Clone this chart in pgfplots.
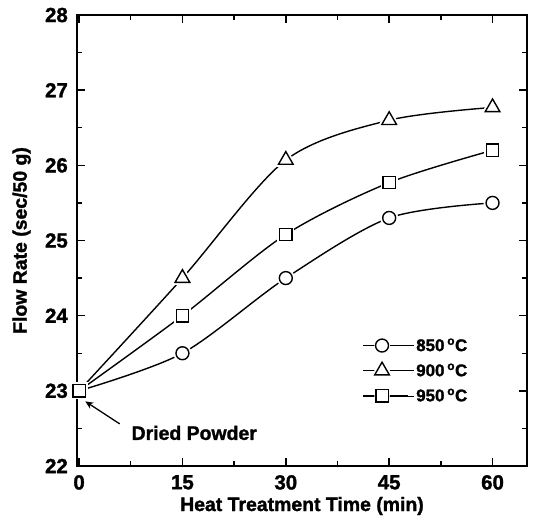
\documentclass[border=0pt]{standalone}
\usepackage{pgfplots}
\pgfplotsset{compat=1.18}
\usepackage{pgfplotstable}
\usepackage{fontspec}
\setmainfont[BoldFeatures={FakeBold=1.5}]{Liberation Sans}
\usetikzlibrary{arrows.meta}

% flow rate vs heat treatment time
\pgfplotstableread{
t rate
0  23.0
15 23.5
30 24.5
45 25.3
60 25.5
}\tA
\pgfplotstableread{
t rate
0  23.0
15 24.5
30 26.07
45 26.6
60 26.77
}\tB
\pgfplotstableread{
t rate
0  23.0
15 24.0
30 25.08
45 25.77
60 26.2
}\tC

\pgfplotsset{
  curve/.style={black, line width=1.4pt, smooth, tension=0.5,
    mark options={draw=white, fill=white, line width=5pt}},
  pts/.style={black, only marks,
    mark options={line width=1.4pt}},
  halo legend/.style={legend image code/.code={
    \path (0bp,0bp) -- (51bp,0bp);
    \draw[black, line width=1.4pt] (0bp,0bp) -- (45bp,0bp);
    \draw[white, fill=white, line width=3.5pt] (19bp,0bp) circle (6bp);
    \draw[##1] plot coordinates {(19bp,0bp)};
  }},
}

\begin{document}
\begin{tikzpicture}
\begin{axis}[
  scale only axis,
  width=450bp, height=451bp,
  xmin=-0.3, xmax=65, ymin=22, ymax=28,
  xtick={0,15,30,45,60}, ytick={22,23,...,28},
  minor x tick num=1, minor y tick num=1,
  tick align=inside,
  major tick length=8bp, minor tick length=5bp,
  axis line style={line width=1.6pt},
  tick style={black, line width=1.4pt},
  /pgf/number format/assume math mode=true,
  tick label style={font=\fontsize{20.5}{23}\selectfont\bfseries, inner sep=0pt},
  yticklabel style={xshift=-9bp},
  xticklabel style={yshift=-9bp},
  xlabel={Heat Treatment Time (min)},
  ylabel={Flow Rate (sec/50 g)},
  label style={font=\fontsize{19.5}{22}\selectfont\bfseries},
  xlabel style={at={(axis description cs:0.5,0)}, anchor=center, yshift=-40bp},
  ylabel style={at={(axis description cs:0,0.5)}, anchor=south, yshift=46bp, inner sep=0pt},
  legend style={at={(0.627,0.292)}, anchor=north west, draw=none, fill=none,
    font=\fontsize{17}{20}\selectfont\bfseries, row sep=7bp},
  legend cell align=left,
  clip=false,
]
% lines with white gaps round the marks
\addplot[curve, mark=*, mark size=6.5pt, mark indices={2,3,4,5}, forget plot] table[x=t, y=rate] {\tA};
\addplot[curve, mark=triangle*, mark size=8.5pt, mark indices={2,3,4,5}, forget plot] table[x=t, y=rate] {\tB};
\addplot[curve, mark=square*, mark size=6.2pt, forget plot] table[x=t, y=rate] {\tC};

% marks
\addplot[pts, mark=o, mark size=6.5pt, skip coords between index={0}{1}, halo legend] table[x=t, y=rate] {\tA};
\addlegendentry{850\,\textsuperscript{o}C}
\addplot[pts, mark=triangle, mark size=8.5pt, skip coords between index={0}{1}, halo legend] table[x=t, y=rate] {\tB};
\addlegendentry{900\,\textsuperscript{o}C}
\addplot[pts, mark=square, mark size=6.2pt, halo legend] table[x=t, y=rate] {\tC};
\addlegendentry{950\,\textsuperscript{o}C}

\draw[line width=1.3pt, -{Stealth[length=8bp, width=7bp]}] (axis cs:5.9,22.56) -- (axis cs:0.9,22.86);
\node[anchor=west, inner sep=0pt, font=\fontsize{19.5}{22}\selectfont\bfseries] at (axis cs:7.6,22.44) {Dried Powder};
\end{axis}
\path ([xshift=-77bp, yshift=15bp]current axis.north west);
\path ([xshift=8bp, yshift=-57bp]current axis.south east);
\end{tikzpicture}
\end{document}
